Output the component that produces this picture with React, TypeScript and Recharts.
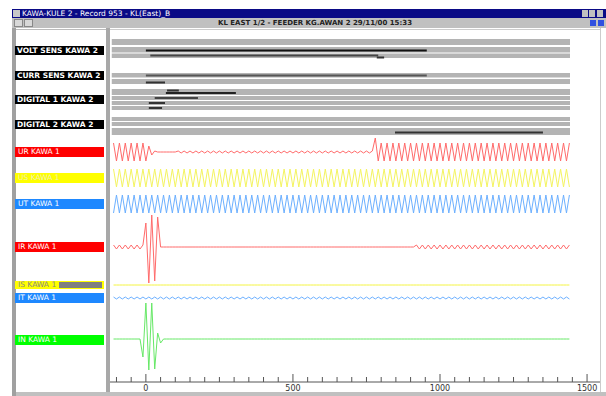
import React from "react";
import { ComposedChart, Line, XAxis, YAxis, ReferenceArea } from "recharts";

// sample clock of the recorder: one value per half cycle (50 Hz)
const SAMPLE_START_MS = -110;
const SAMPLE_STEP_MS = 10;

// analog channels (positive = up)
const UR = [
  9, -9, 9, -9, 9, -9, 9, -9, 9, -9,
  9, -9, 6, -3, 1, 0, 0, 0, 0, 0,
  0, 0, 1, -1, 1, -1, 1, -1, 1, -1,
  1, -1, 1, -1, 1, -1, 1, -1, 1, -1,
  1, -1, 1, -1, 1, -1, 1, -1, 1, -1,
  1, -1, 1, -1, 1, -1, 1, -1, 1, -1,
  1, -1, 1, -1, 1, -1, 1, -1, 1, -1,
  1, -1, 1, -1, 1, -1, 1, -1, 1, -1,
  1, -1, 1, -1, 1, -1, 1, -1, 1, 14,
  -9, 9, -9, 9, -9, 9, -9, 9, -9, 9,
  -9, 9, -9, 9, -9, 9, -9, 9, -9, 9,
  -9, 9, -9, 9, -9, 9, -9, 9, -9, 9,
  -9, 9, -9, 9, -9, 9, -9, 9, -9, 9,
  -9, 9, -9, 9, -9, 9, -9, 9, -9, 9,
  -9, 9, -9, 9, -9, 9, -9, 9, -9, 9,
  -9, 9, -9, 9, -9, 9,
];

const US = [
  9, -9, 9, -9, 9, -9, 9, -9, 9, -9,
  9, -9, 9, -9, 9, -9, 9, -9, 9, -9,
  9, -9, 9, -9, 9, -9, 9, -9, 9, -9,
  9, -9, 9, -9, 9, -9, 9, -9, 9, -9,
  9, -9, 9, -9, 9, -9, 9, -9, 9, -9,
  9, -9, 9, -9, 9, -9, 9, -9, 9, -9,
  9, -9, 9, -9, 9, -9, 9, -9, 9, -9,
  9, -9, 9, -9, 9, -9, 9, -9, 9, -9,
  9, -9, 9, -9, 9, -9, 9, -9, 9, -9,
  9, -9, 9, -9, 9, -9, 9, -9, 9, -9,
  9, -9, 9, -9, 9, -9, 9, -9, 9, -9,
  9, -9, 9, -9, 9, -9, 9, -9, 9, -9,
  9, -9, 9, -9, 9, -9, 9, -9, 9, -9,
  9, -9, 9, -9, 9, -9, 9, -9, 9, -9,
  9, -9, 9, -9, 9, -9, 9, -9, 9, -9,
  9, -9, 9, -9, 9, -9,
];

const UT = [
  -9, 9, -9, 9, -9, 9, -9, 9, -9, 9,
  -9, 9, -9, 9, -9, 9, -9, 9, -9, 9,
  -9, 9, -9, 9, -9, 9, -9, 9, -9, 9,
  -9, 9, -9, 9, -9, 9, -9, 9, -9, 9,
  -9, 9, -9, 9, -9, 9, -9, 9, -9, 9,
  -9, 9, -9, 9, -9, 9, -9, 9, -9, 9,
  -9, 9, -9, 9, -9, 9, -9, 9, -9, 9,
  -9, 9, -9, 9, -9, 9, -9, 9, -9, 9,
  -9, 9, -9, 9, -9, 9, -9, 9, -9, 9,
  -9, 9, -9, 9, -9, 9, -9, 9, -9, 9,
  -9, 9, -9, 9, -9, 9, -9, 9, -9, 9,
  -9, 9, -9, 9, -9, 9, -9, 9, -9, 9,
  -9, 9, -9, 9, -9, 9, -9, 9, -9, 9,
  -9, 9, -9, 9, -9, 9, -9, 9, -9, 9,
  -9, 9, -9, 9, -9, 9, -9, 9, -9, 9,
  -9, 9, -9, 9, -9, 9,
];

const IR = [
  2, -2, 2, -2, 2, -2, 2, -2, 2, -2,
  2, 24, -36, 32, -34, 30, 0, 0, 0, 0,
  0, 0, 0, 0, 0, 0, 0, 0, 0, 0,
  0, 0, 0, 0, 0, 0, 0, 0, 0, 0,
  0, 0, 0, 0, 0, 0, 0, 0, 0, 0,
  0, 0, 0, 0, 0, 0, 0, 0, 0, 0,
  0, 0, 0, 0, 0, 0, 0, 0, 0, 0,
  0, 0, 0, 0, 0, 0, 0, 0, 0, 0,
  0, 0, 0, 0, 0, 0, 0, 0, 0, 0,
  0, 0, 0, 0, 0, 0, 0, 0, 0, 0,
  0, 0, 0, 2, -2, 2, -2, 2, -2, 2,
  -2, 2, -2, 2, -2, 2, -2, 2, -2, 2,
  -2, 2, -2, 2, -2, 2, -2, 2, -2, 2,
  -2, 2, -2, 2, -2, 2, -2, 2, -2, 2,
  -2, 2, -2, 2, -2, 2, -2, 2, -2, 2,
  -2, 2, -2, 2, -2, 2,
];

const IS = [
  0, 0, 0, 0, 0, 0, 0, 0, 0, 0,
  0, 0, 0, 0, 0, 0, 0, 0, 0, 0,
  0, 0, 0, 0, 0, 0, 0, 0, 0, 0,
  0, 0, 0, 0, 0, 0, 0, 0, 0, 0,
  0, 0, 0, 0, 0, 0, 0, 0, 0, 0,
  0, 0, 0, 0, 0, 0, 0, 0, 0, 0,
  0, 0, 0, 0, 0, 0, 0, 0, 0, 0,
  0, 0, 0, 0, 0, 0, 0, 0, 0, 0,
  0, 0, 0, 0, 0, 0, 0, 0, 0, 0,
  0, 0, 0, 0, 0, 0, 0, 0, 0, 0,
  0, 0, 0, 0, 0, 0, 0, 0, 0, 0,
  0, 0, 0, 0, 0, 0, 0, 0, 0, 0,
  0, 0, 0, 0, 0, 0, 0, 0, 0, 0,
  0, 0, 0, 0, 0, 0, 0, 0, 0, 0,
  0, 0, 0, 0, 0, 0, 0, 0, 0, 0,
  0, 0, 0, 0, 0, 0,
];

const IT = [
  1, -1, 1, -1, 1, -1, 1, -1, 1, -1,
  1, -1, 1, -1, 1, -1, 1, -1, 1, -1,
  1, -1, 1, -1, 1, -1, 1, -1, 1, -1,
  1, -1, 1, -1, 1, -1, 1, -1, 1, -1,
  1, -1, 1, -1, 1, -1, 1, -1, 1, -1,
  1, -1, 1, -1, 1, -1, 1, -1, 1, -1,
  1, -1, 1, -1, 1, -1, 1, -1, 1, -1,
  1, -1, 1, -1, 1, -1, 1, -1, 1, -1,
  1, -1, 1, -1, 1, -1, 1, -1, 1, -1,
  1, -1, 1, -1, 1, -1, 1, -1, 1, -1,
  1, -1, 1, -1, 1, -1, 1, -1, 1, -1,
  1, -1, 1, -1, 1, -1, 1, -1, 1, -1,
  1, -1, 1, -1, 1, -1, 1, -1, 1, -1,
  1, -1, 1, -1, 1, -1, 1, -1, 1, -1,
  1, -1, 1, -1, 1, -1, 1, -1, 1, -1,
  1, -1, 1, -1, 1, -1,
];

const IN = [
  0, 0, 0, 0, 0, 0, 0, 0, 0, 0,
  -18, 36, -31, 36, -30, 6, -4, 0, 0, 0,
  0, 0, 0, 0, 0, 0, 0, 0, 0, 0,
  0, 0, 0, 0, 0, 0, 0, 0, 0, 0,
  0, 0, 0, 0, 0, 0, 0, 0, 0, 0,
  0, 0, 0, 0, 0, 0, 0, 0, 0, 0,
  0, 0, 0, 0, 0, 0, 0, 0, 0, 0,
  0, 0, 0, 0, 0, 0, 0, 0, 0, 0,
  0, 0, 0, 0, 0, 0, 0, 0, 0, 0,
  0, 0, 0, 0, 0, 0, 0, 0, 0, 0,
  0, 0, 0, 0, 0, 0, 0, 0, 0, 0,
  0, 0, 0, 0, 0, 0, 0, 0, 0, 0,
  0, 0, 0, 0, 0, 0, 0, 0, 0, 0,
  0, 0, 0, 0, 0, 0, 0, 0, 0, 0,
  0, 0, 0, 0, 0, 0, 0, 0, 0, 0,
  0, 0, 0, 0, 0, 0,
];

// digital channels: on / off times in ms
const DIGITAL_ON = [0, 15, 785, 0, 0, 68, 72, 30, 10, 10, 847];
const DIGITAL_OFF = [955, 790, 810, 955, 65, 306, 112, 177, 65, 55, 1350];

const TIME_TICKS = [
  -100, -50, 0, 50, 100, 150, 200, 250, 300, 350, 400, 450, 500, 550, 600, 650,
  700, 750, 800, 850, 900, 950, 1000, 1050, 1100, 1150, 1200, 1250, 1300, 1350,
  1400, 1450, 1500,
];

// ---- layout / style (not data) ----
const X_DOMAIN: [number, number] = [-122, 1544];
const TRACK_X: [number, number] = [-116, 1442];
const Y_TOP = 35;
const Y_BOTTOM = 382;

const DIGITAL_LANES = [50.5, 55.5, 57.5, 75.5, 82.5, 93, 90.5, 98, 103, 108, 132.5];
const DIGITAL_COLORS = ["#111", "#444", "#333", "#555", "#333", "#222", "#333", "#444", "#333", "#333", "#333"];

const TRACKS: [number, number][] = [
  [39, 45], [47, 52.5], [53.5, 58],
  [73, 77.5], [79, 84],
  [89, 95], [96, 100], [101, 105], [106, 110],
  [117, 121], [122, 126], [128, 135],
];

const CHANNELS = [
  { key: "UR", values: UR, name: "UR KAWA 1", color: "#ff6a6a", lane: 152, bg: "#ff0000", fg: "#fff", labelTop: 147 },
  { key: "US", values: US, name: "US KAWA 1", color: "#f4f460", lane: 178, bg: "#ffff00", fg: "#f0f0b0", labelTop: 173 },
  { key: "UT", values: UT, name: "UT KAWA 1", color: "#6cb0ff", lane: 204, bg: "#1e88ff", fg: "#fff", labelTop: 199 },
  { key: "IR", values: IR, name: "IR KAWA 1", color: "#ff6a6a", lane: 247, bg: "#ff0000", fg: "#fff", labelTop: 242 },
  { key: "IS", values: IS, name: "IS KAWA 1", color: "#f4f440", lane: 285, bg: "#ffff00", fg: "#888", labelTop: 281 },
  { key: "IT", values: IT, name: "IT KAWA 1", color: "#6cb0ff", lane: 298, bg: "#1e88ff", fg: "#fff", labelTop: 293 },
  { key: "IN", values: IN, name: "IN KAWA 1", color: "#66e866", lane: 339, bg: "#00ff00", fg: "#fff", labelTop: 335 },
];

const DIGITAL_LABELS = [
  { name: "VOLT SENS KAWA 2", top: 46 },
  { name: "CURR SENS KAWA 2", top: 71 },
  { name: "DIGITAL 1 KAWA 2", top: 95 },
  { name: "DIGITAL 2 KAWA 2", top: 120 },
];

const rows = UR.map((_, i) => {
  const row: Record<string, number> = { t: SAMPLE_START_MS + i * SAMPLE_STEP_MS };
  CHANNELS.forEach((c) => {
    row[c.key] = c.lane - c.values[i];
  });
  return row;
});

const digitalSeries = DIGITAL_ON.map((on, i) => [
  { t: on, y: DIGITAL_LANES[i] },
  { t: DIGITAL_OFF[i], y: DIGITAL_LANES[i] },
]);

function TimeTick(props: any) {
  const { x, y, payload } = props;
  const major = payload.value % 500 === 0;
  return (
    <g>
      <line x1={x} x2={x} y1={y - (major ? 8 : 5)} y2={y} stroke="#555" />
      {major && (
        <text x={x} y={y + 9} textAnchor="middle" fontSize={8} fill="#333" fontFamily="DejaVu Sans">
          {payload.value}
        </text>
      )}
    </g>
  );
}

const box = (s: React.CSSProperties): React.CSSProperties => ({ position: "absolute", ...s });

export default function App() {
  return (
    <div style={box({ left: 0, top: 0, width: 606, height: 396, background: "#fff", overflow: "hidden", fontFamily: "DejaVu Sans, sans-serif" })}>
      {/* window chrome */}
      <div style={box({ left: 12, top: 9, width: 594, height: 9, background: "#0a0a86" })} />
      <div style={box({ left: 13, top: 10, width: 7, height: 7, background: "#c8c8c8" })} />
      <div style={box({ left: 22, top: 8.5, fontSize: 7.5, color: "#fff", whiteSpace: "nowrap" })}>
        KAWA-KULE 2 - Record 953 - KL(East)_B
      </div>
      <div style={box({ left: 582, top: 10, width: 6, height: 7, background: "#c0c0c0" })} />
      <div style={box({ left: 589, top: 10, width: 6, height: 7, background: "#c0c0c0" })} />
      <div style={box({ left: 597, top: 10, width: 6, height: 7, background: "#c0c0c0" })} />
      <div style={box({ left: 12, top: 18, width: 594, height: 10, background: "#c0c0c0" })} />
      <div style={box({ left: 14, top: 19, width: 9, height: 8, background: "#d8d8d8", border: "1px solid #888", boxSizing: "border-box" })} />
      <div style={box({ left: 24, top: 19, width: 9, height: 8, background: "#d8d8d8", border: "1px solid #888", boxSizing: "border-box" })} />
      <div style={box({ left: 180, top: 18.5, width: 270, textAlign: "center", fontSize: 7, fontWeight: "bold", color: "#222", whiteSpace: "nowrap" })}>
        KL EAST 1/2 - FEEDER KG.AWAN 2   29/11/00 15:33
      </div>
      <div style={box({ left: 590, top: 20, width: 6, height: 6, background: "#3050e0" })} />
      <div style={box({ left: 598, top: 20, width: 6, height: 6, background: "#3050e0" })} />

      {/* panes */}
      <div style={box({ left: 12, top: 28, width: 4, height: 368, background: "#a0a0a0" })} />
      <div style={box({ left: 16, top: 29, width: 90, height: 1, background: "#bbb" })} />
      <div style={box({ left: 106, top: 28, width: 4, height: 368, background: "#a8a8a8" })} />
      <div style={box({ left: 110, top: 29, width: 490, height: 1, background: "#ccc" })} />
      <div style={box({ left: 600, top: 28, width: 1, height: 364, background: "#ccc" })} />
      <div style={box({ left: 16, top: 392, width: 590, height: 4, background: "#c0c0c0" })} />

      {/* channel labels */}
      {DIGITAL_LABELS.map((l) => (
        <div key={l.name} style={box({ left: 15, top: l.top, width: 89, height: 9, background: "#000", color: "#fff", fontSize: 7.5, fontWeight: "bold", lineHeight: "9px", paddingLeft: 2, boxSizing: "border-box", whiteSpace: "nowrap", overflow: "hidden" })}>
          {l.name}
        </div>
      ))}
      {CHANNELS.map((c) => (
        <div key={c.key} style={box({ left: 15, top: c.labelTop, width: 89, height: c.key === "IS" ? 8 : 10, background: c.bg, color: c.fg, fontSize: 7.5, lineHeight: c.key === "IS" ? "8px" : "10px", paddingLeft: 3, boxSizing: "border-box", whiteSpace: "nowrap" })}>
          {c.name}
          {c.key === "IS" && <div style={box({ left: 44, top: 1, width: 43, height: 6, background: "#808080" })} />}
        </div>
      ))}

      {/* record traces */}
      <div style={box({ left: 110, top: Y_TOP })}>
        <ComposedChart width={490} height={358} data={rows} margin={{ top: 0, right: 0, bottom: 0, left: 0 }}>
          <XAxis
            dataKey="t"
            type="number"
            domain={X_DOMAIN}
            allowDataOverflow
            ticks={TIME_TICKS}
            interval={0}
            height={11}
            tickSize={0}
            tickMargin={0}
            tickLine={false}
            axisLine={{ stroke: "#555" }}
            tick={<TimeTick />}
          />
          <YAxis hide type="number" domain={[Y_TOP, Y_BOTTOM]} reversed allowDataOverflow />
          {TRACKS.map(([y1, y2], i) => (
            <ReferenceArea key={`tr${i}`} x1={TRACK_X[0]} x2={TRACK_X[1]} y1={y1} y2={y2} fill="#b4b4b4" fillOpacity={1} stroke="none" />
          ))}
          {digitalSeries.map((d, i) => (
            <Line key={`d${i}`} data={d} dataKey="y" stroke={DIGITAL_COLORS[i]} strokeWidth={2} dot={false} isAnimationActive={false} />
          ))}
          {CHANNELS.map((c) => (
            <Line key={c.key} dataKey={c.key} stroke={c.color} strokeWidth={1} dot={false} isAnimationActive={false} />
          ))}
        </ComposedChart>
      </div>
    </div>
  );
}
